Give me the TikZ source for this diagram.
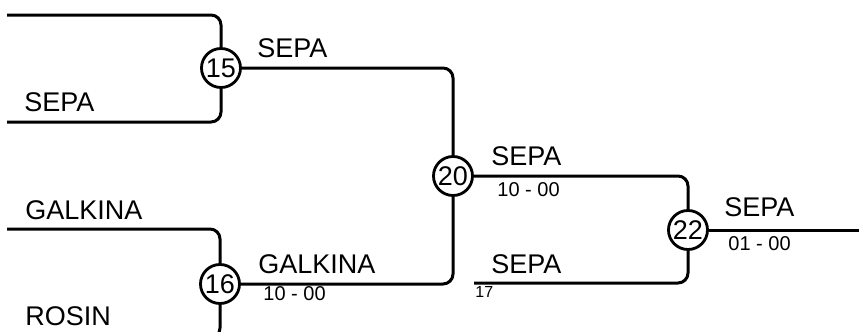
\documentclass[tikz,border=0pt]{standalone}
\usepackage{fontspec}
\setmainfont{Liberation Sans}
\usetikzlibrary{positioning}

\tikzset{
  match/.style={draw,circle,line width=1.4pt,inner sep=0pt,minimum size=19.5pt,font=\fontsize{13.5}{14}\selectfont},
  wire/.style={line width=1.5pt,rounded corners=5pt},
  player/.style={anchor=base west,inner sep=0pt,font=\fontsize{13.5}{14}\selectfont},
  result/.style={anchor=base west,inner sep=0pt,font=\fontsize{10}{11}\selectfont},
  seed/.style={anchor=base west,inner sep=0pt,font=\fontsize{8}{9}\selectfont}
}

\begin{document}
\begin{tikzpicture}[x=0.5pt,y=-0.5pt]
  \useasboundingbox (0,0) rectangle (859,332);
  \clip (0,0) rectangle (859,332);
  \node[match] (m15) at (221,68) {15};
  \node[match] (m16) at (220,284) {16};
  \node[match] (m20) at (453,176) {20};
  \node[match] (m22) at (688,230) {22};
  \coordinate (a15) at (7,15);
  \coordinate (b15) at (7,122);
  \coordinate (a16) at (7,229);
  \coordinate (b16) at (7,338);
  \coordinate (b22) at (474,283);
  \coordinate (end) at (859,230);
  \draw[wire] (a15) -| (m15);
  \draw[wire] (b15) -| (m15);
  \draw[wire] (a16) -| (m16);
  \draw[wire] (b16) -| (m16);
  \draw[wire] (m15) -| (m20);
  \draw[wire] (m16) -| (m20);
  \draw[wire] (m20) -| (m22);
  \draw[wire] (b22) -| (m22);
  \draw[wire] (m22) -- (end);
  \node[player] (p1) at (24,112) {SEPA};
  \node[player] (p2) at (25,220) {GALKINA};
  \node[player] (p3) at (25,325) {ROSIN};
  \node[player] (w15) at (257,57) {SEPA};
  \node[player] (w16) at (258,273) {GALKINA};
  \node[result] (r16) at (263,300) {10 - 00};
  \node[player] (w20) at (491,165) {SEPA};
  \node[result] (r20) at (497,197) {10 - 00};
  \node[player] (p17) at (491,273) {SEPA};
  \node[seed] (s17) at (475,297) {17};
  \node[player] (w22) at (724,216) {SEPA};
  \node[result] (r22) at (728,250) {01 - 00};
\end{tikzpicture}
\end{document}
